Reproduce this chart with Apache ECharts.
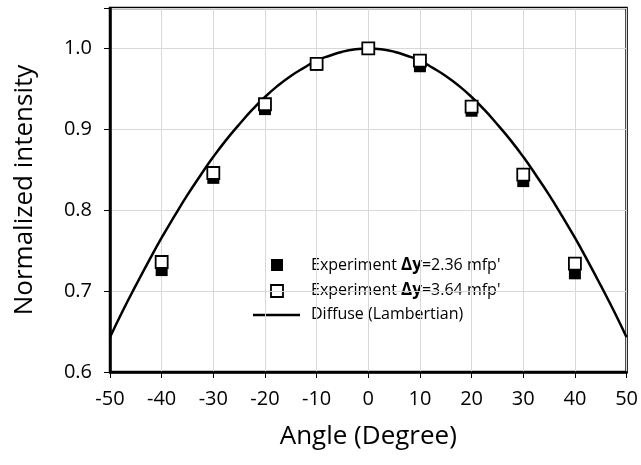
<!DOCTYPE html>
<html>
<head>
    <meta charset="utf-8">
    <title>angle</title>
    <script src="https://cdn.jsdelivr.net/npm/echarts@6/dist/echarts.min.js"></script>
</head>
<body style="margin:0">
<div id="main" style="width: 641px; height: 465px;"></div>
<script type="text/javascript">
// data
var angles = [-40, -30, -20, -10, 0, 10, 20, 30, 40];
var exp236 = [0.726, 0.840, 0.925, 0.980, 1.000, 0.978, 0.923, 0.836, 0.722];
var exp364 = [0.736, 0.846, 0.931, 0.981, 1.000, 0.985, 0.928, 0.844, 0.734];
var curveAngles = [-50, -47.5, -45, -42.5, -40, -37.5, -35, -32.5, -30, -27.5, -25, -22.5, -20, -17.5, -15, -12.5, -10, -7.5, -5, -2.5, 0,
                   2.5, 5, 7.5, 10, 12.5, 15, 17.5, 20, 22.5, 25, 27.5, 30, 32.5, 35, 37.5, 40, 42.5, 45, 47.5, 50];
var curveValues = [0.643, 0.676, 0.707, 0.737, 0.766, 0.793, 0.819, 0.843, 0.866, 0.887, 0.906, 0.924, 0.940, 0.954, 0.966, 0.976, 0.985, 0.991, 0.996, 0.999, 1.000,
                   0.999, 0.996, 0.991, 0.985, 0.976, 0.966, 0.954, 0.940, 0.924, 0.906, 0.887, 0.866, 0.843, 0.819, 0.793, 0.766, 0.737, 0.707, 0.676, 0.643];
var yTicks = [0.6, 0.7, 0.8, 0.9, 1.0];

function pairs(xs, ys) {
    return xs.map(function (x, i) { return [x, ys[i]]; });
}

var font = '"Open Sans", "Noto Sans", sans-serif';
var richParts = {
    n: { fontSize: 16, fontFamily: font, color: '#000' },
    b: { fontSize: 17, fontWeight: 'bold', fontFamily: font, color: '#000' }
};
var myChart = echarts.init(document.getElementById('main'));
var option = {
    animation: false,
    textStyle: { fontFamily: font, color: '#000' },
    grid: {
        left: 110, top: 8, right: 13, bottom: 93,
        show: true, borderColor: '#000', borderWidth: 2.5
    },
    xAxis: {
        type: 'value', min: -50, max: 50, interval: 10,
        name: 'Angle (Degree)', nameLocation: 'middle', nameGap: 52,
        nameTextStyle: { fontSize: 26, fontFamily: font, color: '#000' },
        axisLine: { onZero: false, lineStyle: { color: '#000', width: 2.5 } },
        axisTick: { show: true, length: 6, lineStyle: { color: '#000', width: 1 } },
        axisLabel: { fontSize: 20, color: '#000', margin: 17, fontFamily: font },
        splitLine: { lineStyle: { color: '#d8d8d8', width: 1 } }
    },
    yAxis: {
        type: 'value', min: 0.6, max: 1.05, interval: 0.1,
        name: 'Normalized intensity', nameLocation: 'middle', nameGap: 72,
        nameTextStyle: { fontSize: 26, fontFamily: font, color: '#000' },
        axisLine: { show: true, onZero: false, lineStyle: { color: '#000', width: 2.5 } },
        axisTick: { show: true, length: 6, lineStyle: { color: '#000', width: 1 } },
        axisLabel: {
            fontSize: 20, color: '#000', margin: 18, fontFamily: font,
            formatter: function (v) {
                var r = Math.round(v * 10) / 10;
                return yTicks.indexOf(r) >= 0 && Math.abs(v - r) < 1e-6 ? r.toFixed(1) : '';
            }
        },
        splitLine: { lineStyle: { color: '#d8d8d8', width: 1 } }
    },
    series: [
        {
            name: 'Diffuse (Lambertian)', type: 'line', smooth: true,
            showSymbol: false, data: pairs(curveAngles, curveValues),
            lineStyle: { color: '#000', width: 2.5 }, z: 2
        },
        {
            name: 'Experiment dy=2.36', type: 'scatter', symbol: 'rect', symbolSize: 12,
            data: pairs(angles, exp236),
            itemStyle: { color: '#000', opacity: 1 }, z: 3
        },
        {
            name: 'Experiment dy=3.64', type: 'scatter', symbol: 'rect', symbolSize: 12,
            data: pairs(angles, exp364),
            itemStyle: { color: '#fff', borderColor: '#000', borderWidth: 1.8, opacity: 1 }, z: 4
        }
    ],
    graphic: [
        { type: 'rect', shape: { x: 271, y: 259, width: 12, height: 12 }, style: { fill: '#000' } },
        { type: 'rect', shape: { x: 271, y: 285, width: 12, height: 12 }, style: { fill: '#fff', stroke: '#000', lineWidth: 1.8 } },
        { type: 'line', shape: { x1: 253, y1: 315, x2: 300, y2: 315 }, style: { stroke: '#000', lineWidth: 2.5 } },
        {
            type: 'text', left: 311, top: 257,
            style: { text: '{n|Experiment }{b|\u0394y}{n|=2.36 mfp\'}', rich: richParts }
        },
        {
            type: 'text', left: 311, top: 282,
            style: { text: '{n|Experiment }{b|\u0394y}{n|=3.64 mfp\'}', rich: richParts }
        },
        {
            type: 'text', left: 311, top: 306,
            style: { text: '{n|Diffuse (Lambertian)}', rich: richParts }
        }
    ]
};
myChart.setOption(option);
</script>
</body>
</html>
